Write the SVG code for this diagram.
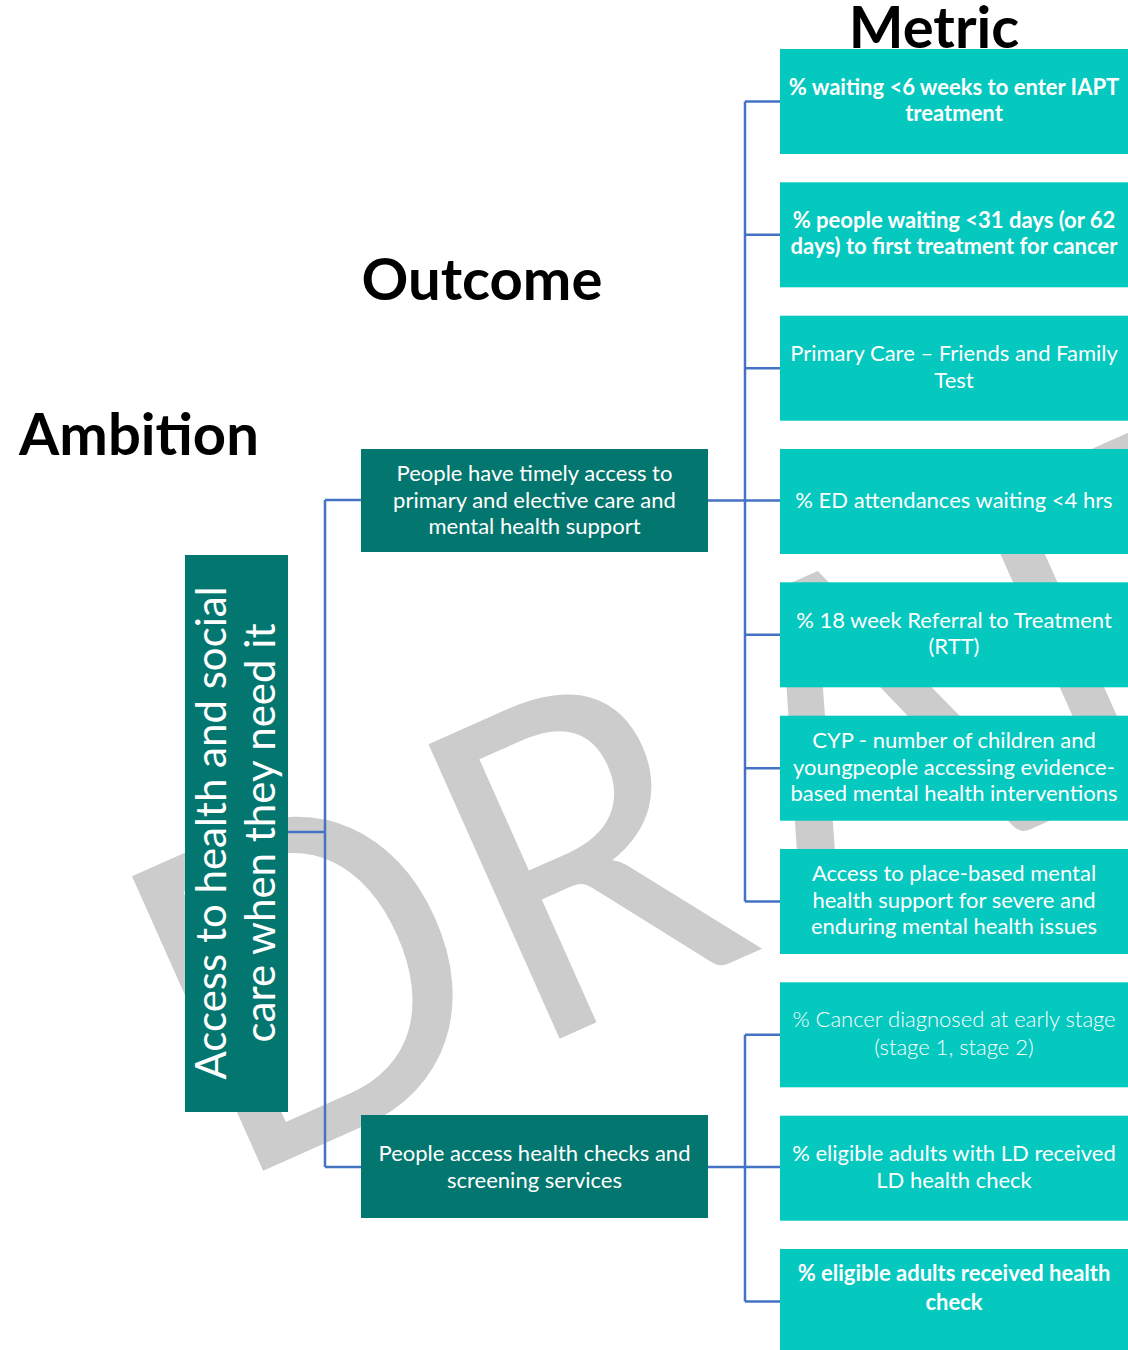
<svg xmlns="http://www.w3.org/2000/svg" width="1128" height="1350" viewBox="0 0 1128 1350">
<style>
.wm{font-family:Lato,"Open Sans",sans-serif;font-size:450px;fill:#cccccc}
.head{font-family:Lato,"Liberation Sans",sans-serif;font-weight:bold;font-size:58px;fill:#000}
.metric{fill:#05c8bf}
.outc{fill:#03776f}
.t{font-family:Lato,"Open Sans",sans-serif;font-size:22px;fill:#fff;text-anchor:middle}
.b{font-weight:bold}
.l{font-weight:300}
.amb{font-family:Lato,"Open Sans",sans-serif;font-size:42px;fill:#fff;text-anchor:middle}
.c{stroke:#4472c4;stroke-width:2.5;fill:none}
</style>
<rect width="1128" height="1350" fill="#fff"/>
<text class="wm" transform="translate(229,1186) rotate(-24) scale(0.93,1)"><tspan x="-1">D</tspan><tspan x="348">R</tspan><tspan x="673">A</tspan><tspan x="993">F</tspan><tspan x="1237">T</tspan></text>

<text class="head" x="934" y="48" text-anchor="middle">Metric</text>
<text class="head" x="482" y="300" text-anchor="middle">Outcome</text>
<text class="head" x="139" y="455" text-anchor="middle">Ambition</text>

<g id="connectors">
<path class="c" d="M288,832H325M325,500V1167M325,500H361M325,1167H361"/>
<path class="c" d="M708,500.5H780M745,101.5V901.5M745,101.5H780M745,234.8H780M745,368.2H780M745,634.8H780M745,768.2H780M745,901.5H780"/>
<path class="c" d="M708,1167H780M745,1034.8V1301.5M745,1034.8H780M745,1301.5H780"/>
</g>

<g id="ambition">
<rect class="outc" x="185" y="555" width="103" height="557"/>
<g transform="translate(236.5,833) rotate(-90)">
<text class="amb" x="0" y="-11">Access to health and social</text>
<text class="amb" x="0" y="38">care when they need it</text>
</g>
</g>

<g id="outcome1">
<rect class="outc" x="361" y="449" width="347" height="103"/>
<text class="t" x="534.5" y="481">People have timely access to</text>
<text class="t" x="534.5" y="508">primary and elective care and</text>
<text class="t" x="534.5" y="534">mental health support</text>
</g>
<g id="outcome2">
<rect class="outc" x="361" y="1115" width="347" height="103"/>
<text class="t" x="534.5" y="1161">People access health checks and</text>
<text class="t" x="534.5" y="1188">screening services</text>
</g>

<g id="m1">
<rect class="metric" x="780" y="49" width="348" height="105"/>
<text class="t b" x="954" y="95">% waiting &lt;6 weeks to enter IAPT</text>
<text class="t b" x="954" y="121">treatment</text>
</g>
<g id="m2">
<rect class="metric" x="780" y="182.3" width="348" height="105"/>
<text class="t b" x="954" y="228">% people waiting &lt;31 days (or 62</text>
<text class="t b" x="954" y="254">days) to first treatment for cancer</text>
</g>
<g id="m3">
<rect class="metric" x="780" y="315.7" width="348" height="105"/>
<text class="t" x="954" y="361">Primary Care – Friends and Family</text>
<text class="t" x="954" y="388">Test</text>
</g>
<g id="m4">
<rect class="metric" x="780" y="449" width="348" height="105"/>
<text class="t" x="954" y="508">% ED attendances waiting &lt;4 hrs</text>
</g>
<g id="m5">
<rect class="metric" x="780" y="582.3" width="348" height="105"/>
<text class="t" x="954" y="628">% 18 week Referral to Treatment</text>
<text class="t" x="954" y="654">(RTT)</text>
</g>
<g id="m6">
<rect class="metric" x="780" y="715.7" width="348" height="105"/>
<text class="t" x="954" y="748">CYP - number of children and</text>
<text class="t" x="954" y="775">youngpeople accessing evidence-</text>
<text class="t" x="954" y="801">based mental health interventions</text>
</g>
<g id="m7">
<rect class="metric" x="780" y="849" width="348" height="105"/>
<text class="t" x="954" y="881">Access to place-based mental</text>
<text class="t" x="954" y="908">health support for severe and</text>
<text class="t" x="954" y="934">enduring mental health issues</text>
</g>
<g id="m8">
<rect class="metric" x="780" y="982.3" width="348" height="105"/>
<text class="t l" x="954" y="1027">% Cancer diagnosed at early stage</text>
<text class="t l" x="954" y="1055">(stage 1, stage 2)</text>
</g>
<g id="m9">
<rect class="metric" x="780" y="1115.7" width="348" height="105"/>
<text class="t" x="954" y="1161">% eligible adults with LD received</text>
<text class="t" x="954" y="1188">LD health check</text>
</g>
<g id="m10">
<rect class="metric" x="780" y="1249" width="348" height="105"/>
<text class="t b" x="954" y="1281">% eligible adults received health</text>
<text class="t b" x="954" y="1310">check</text>
</g>
</svg>
